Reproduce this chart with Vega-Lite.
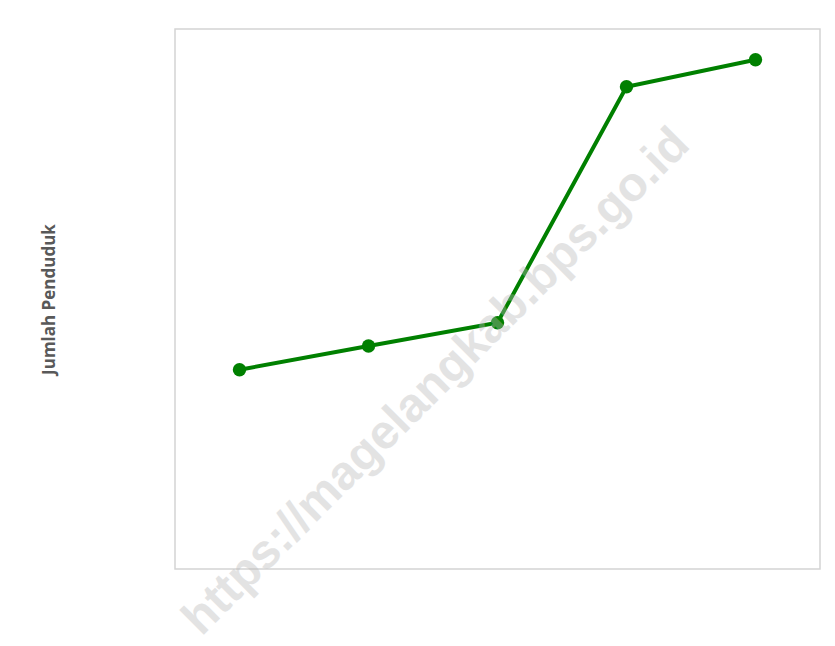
{
  "$schema": "https://vega.github.io/schema/vega-lite/v6.json",
  "width": 645,
  "height": 540,
  "autosize": "none",
  "padding": {"left": 175, "top": 29, "right": 15, "bottom": 77},
  "background": "white",
  "config": {
    "view": {"stroke": "#d4d4d4", "strokeWidth": 1.5},
    "axis": {"grid": false}
  },
  "datasets": {
    "pop": [
      {"tahun": "2017", "jumlah": 36.9},
      {"tahun": "2018", "jumlah": 41.3},
      {"tahun": "2019", "jumlah": 45.6},
      {"tahun": "2020", "jumlah": 89.3},
      {"tahun": "2021", "jumlah": 94.3}
    ],
    "wm": [
      {"tahun": "2019", "jumlah": 45.9, "label": "https://magelangkab.bps.go.id"}
    ]
  },
  "encoding": {
    "x": {
      "field": "tahun", "type": "ordinal",
      "scale": {"type": "point", "padding": 0.5},
      "axis": null
    },
    "y": {
      "field": "jumlah", "type": "quantitative",
      "scale": {"domain": [0, 100], "nice": false, "zero": true},
      "axis": {
        "title": "Jumlah Penduduk",
        "labels": false, "ticks": false, "domain": false,
        "titleFont": "Open Sans", "titleFontSize": 17, "titleFontWeight": "bold",
        "titleColor": "#595959", "titlePadding": 117
      }
    }
  },
  "layer": [
    {
      "data": {"name": "pop"},
      "mark": {"type": "line", "color": "#008000", "strokeWidth": 4}
    },
    {
      "data": {"name": "pop"},
      "mark": {"type": "point", "filled": true, "shape": "circle", "size": 180, "color": "#008000", "opacity": 1}
    },
    {
      "data": {"name": "wm"},
      "mark": {
        "type": "text", "angle": 315, "align": "center", "baseline": "middle",
        "dx": -86, "font": "Liberation Sans", "fontWeight": "bold", "fontSize": 48,
        "color": "#b8b8b8", "opacity": 0.38
      },
      "encoding": {"text": {"field": "label"}}
    }
  ]
}
